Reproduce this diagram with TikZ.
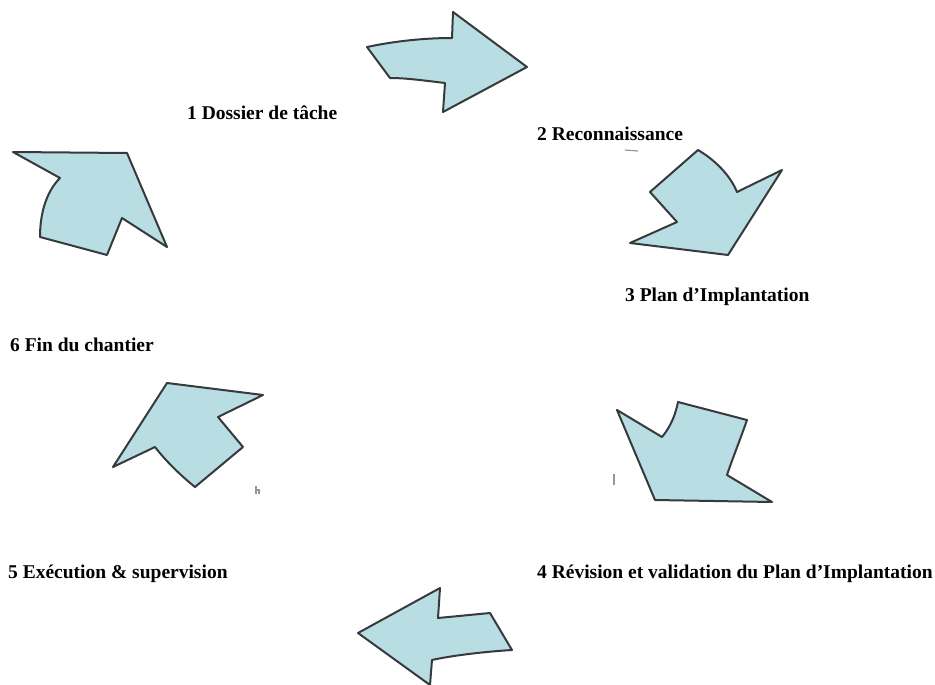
\documentclass[tikz,border=0pt]{standalone}
\usepackage{fontspec}
\setmainfont{Liberation Serif}
\definecolor{arrowfill}{RGB}{184,221,226}
\definecolor{arrowline}{RGB}{55,58,60}
\definecolor{speck}{RGB}{150,150,150}
\begin{document}
\begin{tikzpicture}[x=1pt,y=-1pt,
  arrowshape/.style={fill=arrowfill,draw=arrowline,line width=2pt,line join=round},
  steplabel/.style={anchor=base west,inner sep=0pt,font=\fontsize{19.5}{22}\selectfont\bfseries},
  speckline/.style={draw=speck,line width=1.2pt}]
\useasboundingbox (0,0) rectangle (935,685);
% arrows
\draw[arrowshape] (367,47) .. controls (400,40) and (430,38) .. (452,38) -- (453,12) -- (527,67) -- (443,112) -- (445,83) .. controls (420,80) and (405,78) .. (390,78) -- cycle;
\draw[arrowshape] (13,152) -- (127,153) -- (167,247) -- (122,218) -- (107,255) -- (40,237) .. controls (40,210) and (48,190) .. (60,178) -- cycle;
\draw[arrowshape] (698,150) .. controls (715,160) and (730,175) .. (737,192) -- (782,170) -- (728,255) -- (630,243) -- (677,222) -- (650,192) -- cycle;
\draw[arrowshape] (167,383) -- (263,395) -- (218,417) -- (243,447) -- (195,487) .. controls (180,475) and (165,460) .. (155,447) -- (113,467) -- cycle;
\draw[arrowshape] (617,410) -- (662,437) .. controls (672,425) and (676,412) .. (678,402) -- (747,420) .. controls (740,440) and (732,460) .. (727,475) -- (772,502) -- (655,500) -- cycle;
\draw[arrowshape] (358,633) -- (440,588) -- (438,618) -- (490,613) -- (512,650) .. controls (480,652) and (450,656) .. (432,660) -- (430,685) -- cycle;
% small specks
\draw[speckline] (625,150) -- (638,151);
\draw[speckline] (614,474) -- (614,485);
\draw[speckline] (256,486) -- (256,494) (256,490) -- (259,490) -- (259,494);
% labels
\node[steplabel] (l1) at (187,119) {1 Dossier de tâche};
\node[steplabel] (l2) at (537,140) {2 Reconnaissance};
\node[steplabel] (l3) at (625,301) {3 Plan d’Implantation};
\node[steplabel] (l4) at (537,578) {4 Révision et validation du Plan d’Implantation};
\node[steplabel] (l5) at (8,578) {5 Exécution \& supervision};
\node[steplabel] (l6) at (10,351) {6 Fin du chantier};
\end{tikzpicture}
\end{document}
